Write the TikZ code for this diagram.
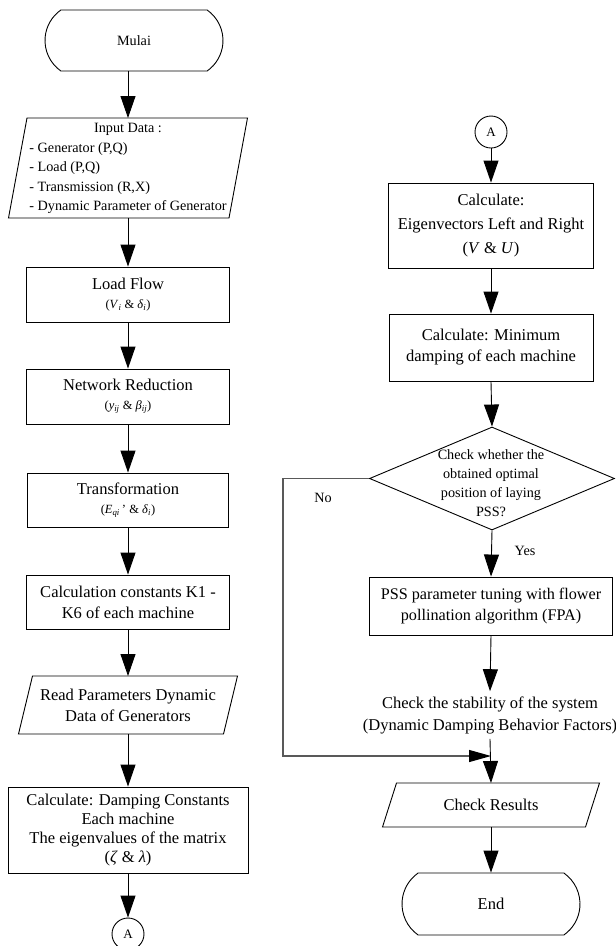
\documentclass[tikz,border=0pt]{standalone}
\usepackage{fontspec}
\setmainfont{Liberation Serif}
\usetikzlibrary{arrows.meta,shapes.geometric,shapes.misc,calc}
\newcommand{\iv}[2]{\textit{#1}\textsubscript{\textit{#2}}}
\newcommand{\drawpara}[2]{\draw[ln] ($(#1.north west)+(#2,0)$) -- (#1.north east) -- ($(#1.south east)+(-#2,0)$) -- (#1.south west) -- cycle;}
\begin{document}
\begin{tikzpicture}[x=1pt,y=-1pt]
\tikzset{
  ln/.style={line width=0.9pt},
  box/.style={draw, ln, inner sep=0pt, align=center, font=\fontsize{16.5}{21}\selectfont},
  term/.style={draw, ln, rounded rectangle, rounded rectangle arc length=110, inner sep=0pt, align=center},
  pbox/.style={inner sep=0pt, outer sep=0pt, align=center, font=\fontsize{16.5}{21}\selectfont},
  arr/.style={ln, -{Triangle[length=22pt,width=15pt]}},
  conn/.style={draw, ln, circle, minimum size=32pt, inner sep=0pt, font=\fontsize{13}{15}\selectfont},
  sm/.style={font=\fontsize{14.2}{19.5}\selectfont},
  mth/.style={},
  noline/.style={line width=1.2pt, draw=black!65, -{Triangle[length=22pt,width=12pt,color=black]}},
}
\useasboundingbox (0,0) rectangle (616,946);

% left column
\node[term, minimum width=178pt, minimum height=61pt, sm] (start) at (134,40.5) {Mulai};
\node[pbox, sm, minimum width=239pt, minimum height=100pt] (inp) at (128,168) {\begin{tabular}{@{}l@{}}\multicolumn{1}{@{}c@{}}{Input Data :}\\- Generator (P,Q)\\- Load (P,Q)\\- Transmission (R,X)\\- Dynamic Parameter of Generator\end{tabular}};
\drawpara{inp}{18.5}
\node[box, minimum width=203pt, minimum height=55pt] (lf) at (128,294.5) {Load Flow\\[-2pt]{\fontsize{12.5}{14}\selectfont(\iv{V}{i} \& \iv{δ}{i})}};
\node[box, minimum width=203pt, minimum height=55pt] (nr) at (128,396.5) {Network Reduction\\[-2pt]{\fontsize{12.5}{14}\selectfont(\iv{y}{ij} \& \iv{β}{ij})}};
\node[box, minimum width=201pt, minimum height=54pt] (tr) at (128,500) {Transformation\\[-2pt]{\fontsize{12.5}{14}\selectfont(\iv{E}{qi}\,' \& \iv{δ}{i})}};
\node[box, minimum width=203pt, minimum height=54pt] (kc) at (128,602) {Calculation constants K1 -\\K6 of each machine};
\node[pbox, minimum width=219pt, minimum height=58pt] (rp) at (128,705) {Read Parameters Dynamic\\Data of Generators};
\drawpara{rp}{14}
\node[box, minimum width=240pt, minimum height=86pt, font=\fontsize{16.5}{19}\selectfont] (cd) at (128,830) {Calculate: Damping Constants\\Each machine\\The eigenvalues of the matrix\\(\textit{ζ} \& \textit{λ})};
\node[conn] (a1) at (128,934) {A};

\draw[arr] (start.south -| inp.north) -- (inp.north);
\draw[arr] (inp.south) -- (lf.north);
\draw[arr] (lf.south) -- (nr.north);
\draw[arr] (nr.south) -- (tr.north);
\draw[arr] (tr.south) -- (kc.north);
\draw[arr] (kc.south) -- (rp.north);
\draw[arr] (rp.south) -- (cd.north);
\draw[arr] (cd.south) -- (a1.north);

% right column
\node[conn] (a2) at (491,132) {A};
\node[box, minimum width=205pt, minimum height=85pt, font=\fontsize{16.5}{24}\selectfont] (ev) at (491,225.5) {Calculate:\\Eigenvectors Left and Right\\(\textit{V} \& \textit{U})};
\node[box, minimum width=204pt, minimum height=67pt] (md) at (491,347.5) {Calculate: Minimum\\damping of each machine};
\node[draw, ln, diamond, minimum width=245pt, minimum height=103pt, inner sep=0pt] (dm) at (492,478.5) {};
\node[sm, align=center, inner sep=0pt, font=\fontsize{14.2}{19}\selectfont] (dmt) at (491,483.5) {Check whether the\\obtained optimal\\position of laying\\PSS?};
\node[sm, inner sep=0pt] (no) at (323,498) {No};
\node[sm, inner sep=0pt] (yes) at (525,551) {Yes};
\node[box, minimum width=243pt, minimum height=58pt, font=\fontsize{16.2}{21}\selectfont] (pss) at (491,606) {PSS parameter tuning with flower\\pollination algorithm (FPA)};
\node[align=center, inner xsep=0pt, inner ysep=5pt, font=\fontsize{16.5}{22}\selectfont] (st) at (490,715) {Check the stability of the system\\(Dynamic Damping Behavior Factors)};
\node[pbox, minimum width=217pt, minimum height=44pt] (cr) at (491,805) {Check Results};
\drawpara{cr}{14}
\node[term, minimum width=178pt, minimum height=62pt, font=\fontsize{16.5}{20}\selectfont] (end) at (491,904) {End};

\coordinate (nox) at (283,0);
\coordinate (jn) at (491,756);

\draw[arr] (a2.south) -- (ev.north);
\draw[arr] (ev.south) -- (md.north);
\draw[arr] (md.south) -- (dm.north);
\draw[arr] (dm.south) -- (pss.north);
\draw[arr] (pss.south) -- (st.north);
\draw[noline] (dm.west) -- (dm.west -| nox) -- (nox |- jn) -- (jn);
\draw[arr] (st.south) -- (cr.north);
\draw[arr] (cr.south) -- (end.north);
\end{tikzpicture}
\end{document}
